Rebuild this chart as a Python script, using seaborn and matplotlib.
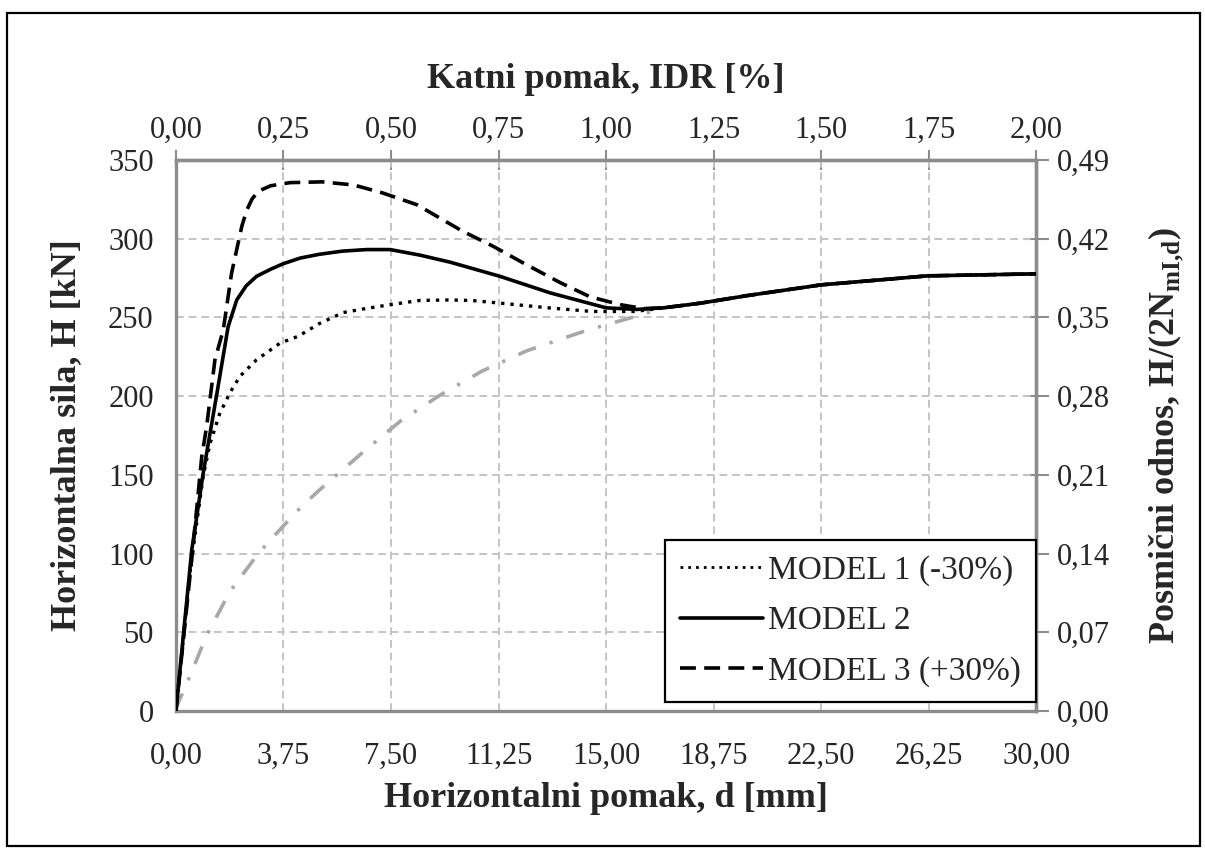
# Force-displacement curves for three models plus gray reference line
import numpy as np
import pandas as pd
import matplotlib
matplotlib.use("Agg")
import matplotlib.pyplot as plt
import seaborn as sns
from matplotlib.ticker import FuncFormatter, MultipleLocator
from matplotlib.lines import Line2D
from matplotlib.patches import Rectangle

# ---- data ----
tail_x = [17.0, 18.3, 20.0, 22.5, 26.2, 30.0]
tail_y = [256.0, 259.0, 264.0, 270.6, 276.3, 277.6]

model1_x = [0, 0.5, 0.95, 1.19, 1.53, 1.88, 2.23, 2.81, 3.63, 4.27, 5.0, 5.83, 6.6,
            7.47, 8.5, 9.5, 10.3, 11.3, 13.0, 14.5, 16.0] + tail_x
model1_y = [0, 90, 149, 170, 189, 202, 212.5, 223, 233.6, 238, 246, 253, 255.5,
            258, 260.7, 261, 260.7, 259, 256, 253.7, 253.7] + tail_y

model2_x = [0, 0.55, 0.95, 1.42, 1.82, 2.12, 2.45, 2.81, 3.3, 3.74, 4.33, 5.0, 5.8,
            6.65, 7.47, 8.5, 9.56, 11.3, 13.05, 15.0, 16.07] + tail_x
model2_y = [0, 102, 151, 200.7, 244, 261, 270, 276, 280.5, 284, 287.6, 290, 292,
            293, 293, 289.5, 285, 276, 265.5, 256, 255] + tail_y

model3_x = [0, 0.6, 0.9, 1.07, 1.36, 1.65, 1.94, 2.12, 2.3, 2.47, 2.65, 2.87, 3.3,
            3.98, 5.1, 6.2, 7.2, 8.4, 10.0, 11.07, 12.1, 13.4, 14.44, 15.5, 16.3] + tail_x
model3_y = [0, 105, 161.5, 180.6, 223, 242, 278, 293, 308, 318, 325, 330, 333.5,
            335.5, 336, 334, 329, 321.5, 304.6, 295, 284.6, 272, 263, 258, 255.5] + tail_y

ref_x = [0, 0.02, 0.43, 1.07, 1.88, 2.87, 4.04, 4.44, 5.23, 6.5, 7.82, 9.23,
         10.69, 12.23, 14.3, 15.92] + tail_x
ref_y = [0, 2.7, 19.7, 48, 75.8, 100, 123.4, 131, 144, 164, 184, 200.8,
         216, 228.7, 241.6, 250] + tail_y

labels = ["MODEL 1 (-30%)", "MODEL 2", "MODEL 3 (+30%)"]

# ---- style ----
sns.set_style("white")
plt.rcParams["font.family"] = ["Liberation Serif", "DejaVu Serif"]
plt.rcParams["mathtext.fontset"] = "custom"
plt.rcParams["mathtext.rm"] = "Liberation Serif"
plt.rcParams["mathtext.bf"] = "Liberation Serif:bold"

spine_col = "#8c8c8c"
grid_col = "#c4c4c4"
fs_tick = 22
fs_lab = 26
fs_leg = 24

fig = plt.figure(figsize=(12.05, 8.5), dpi=100)
ax = fig.add_axes([0.146, 0.1635, 0.714, 0.6485])

# outer border of the picture
fig.patches.append(Rectangle((7 / 1205, 4 / 850), 1193 / 1205, 833 / 850,
                             transform=fig.transFigure, fill=False,
                             edgecolor="black", linewidth=1.6))

# gray reference line (not in legend)
sns.lineplot(x=ref_x, y=ref_y, ax=ax, color="#a8a8a8", linewidth=2.6,
             linestyle=(0, (5.2, 4.0, 0.9, 4.0)), zorder=2)
sns.lineplot(x=model1_x, y=model1_y, ax=ax, color="black", linewidth=2.4,
             linestyle=(0, (1, 1.8)), zorder=3)
sns.lineplot(x=model2_x, y=model2_y, ax=ax, color="black", linewidth=2.6,
             linestyle="-", zorder=4)
sns.lineplot(x=model3_x, y=model3_y, ax=ax, color="black", linewidth=2.6,
             linestyle=(0, (4.4, 2.3)), zorder=5)

ax.set_xlim(0, 30)
ax.set_ylim(0, 350)
ax.xaxis.set_major_locator(MultipleLocator(3.75))
ax.yaxis.set_major_locator(MultipleLocator(50))
ax.xaxis.set_major_formatter(FuncFormatter(lambda v, p: f"{v:.2f}".replace(".", ",")))
ax.yaxis.set_major_formatter(FuncFormatter(lambda v, p: f"{v:.0f}"))
ax.grid(True, color=grid_col, linestyle=(0, (4, 2.5)), linewidth=1.4)
for s in ax.spines.values():
    s.set_color(spine_col)
    s.set_linewidth(2.4)
ax.tick_params(axis="x", direction="out", length=8, width=1.5, color=spine_col,
               labelsize=fs_tick, pad=14)
ax.tick_params(axis="y", direction="out", length=10, width=1.5, color=spine_col,
               labelsize=fs_tick, pad=6)
ax.set_xlabel("Horizontalni pomak, d [mm]", fontsize=fs_lab, fontweight="bold",
              labelpad=8)
ax.set_ylabel("Horizontalna sila, H [kN]", fontsize=fs_lab, fontweight="bold",
              labelpad=18)

# top axis: inter-storey drift ratio
top = ax.secondary_xaxis("top", functions=(lambda x: x / 15, lambda x: x * 15))
top.xaxis.set_major_locator(MultipleLocator(0.25))
top.xaxis.set_major_formatter(FuncFormatter(lambda v, p: f"{v:.2f}".replace(".", ",")))
top.tick_params(direction="inout", length=14, width=1.5, color=spine_col,
                labelsize=fs_tick, pad=4)
top.spines["top"].set_color(spine_col)
top.spines["top"].set_linewidth(2.4)
top.set_xlabel("Katni pomak, IDR [%]", fontsize=fs_lab, fontweight="bold",
               labelpad=20)

# right axis: shear ratio
right = ax.secondary_yaxis("right", functions=(lambda y: y * 0.0014, lambda y: y / 0.0014))
right.yaxis.set_major_locator(MultipleLocator(0.07))
right.yaxis.set_major_formatter(FuncFormatter(lambda v, p: f"{v:.2f}".replace(".", ",")))
right.tick_params(direction="inout", length=18, width=1.5, color=spine_col,
                  labelsize=fs_tick, pad=6)
right.spines["right"].set_color(spine_col)
right.spines["right"].set_linewidth(2.4)
right.set_ylabel(r"Posmični odnos, H/(2N$_{\mathbf{mI{,}d}}$)", fontsize=fs_lab,
                 fontweight="bold", labelpad=26)

# legend (three models only)
handles = [
    Line2D([], [], color="black", linewidth=2.0, linestyle=(0, (1, 1.8))),
    Line2D([], [], color="black", linewidth=2.6, linestyle="-"),
    Line2D([], [], color="black", linewidth=2.6, linestyle=(0, (4.4, 2.3))),
]
leg = ax.legend(handles, labels, loc="lower right", bbox_to_anchor=(1.0, 0.016),
                fontsize=fs_leg, frameon=True, fancybox=False, framealpha=1,
                edgecolor="black", handlelength=2.5, handletextpad=0.15,
                borderpad=0.45, labelspacing=0.6, borderaxespad=0)
leg.get_frame().set_linewidth(1.6)
leg.set_zorder(10)

fig.savefig("out.png", dpi=100)
